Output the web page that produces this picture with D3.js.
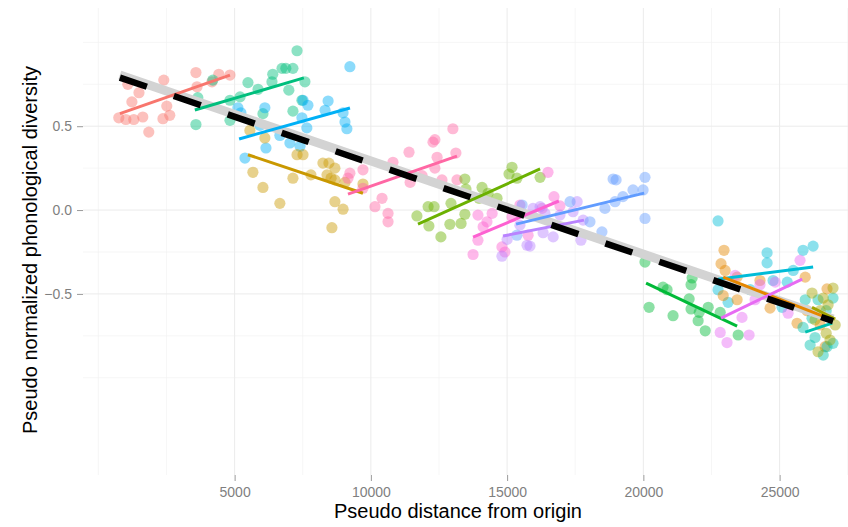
<!DOCTYPE html>
<html>
<head>
<meta charset="utf-8">
<script src="https://cdn.jsdelivr.net/npm/d3@7"></script>
<style>
  body { margin: 0; background: #fff; }
  svg { display: block; font-family: "Liberation Sans", Arial, sans-serif; }
</style>
</head>
<body>
<svg id="chart" width="848" height="527"></svg>
<script>
// points per group, [distance, diversity]
var g01 = [[750,0.55],[1010,0.54],[1300,0.54],[1630,0.555],[1230,0.645],[1490,0.70],[1080,0.75],[1850,0.465],[2400,0.775],[2510,0.62],[2370,0.545],[2620,0.565],[3580,0.82],[3620,0.735],[4420,0.81],[4830,0.805],[4170,0.765]];
var g02 = [[3580,0.51],[3650,0.67],[4200,0.775],[4830,0.655],[5200,0.675],[4830,0.535],[5490,0.76],[5860,0.72],[6040,0.575],[6370,0.765],[6400,0.81],[6740,0.845],[6880,0.845],[7140,0.845],[7290,0.95],[6990,0.715],[7580,0.765],[7470,0.655],[7140,0.59]];
var g03 = [[5380,0.31],[6150,0.37],[5120,0.61],[5230,0.58],[6110,0.61],[5930,0.505],[6660,0.445],[7030,0.40],[7400,0.38],[7510,0.655],[7690,0.625],[7470,0.55],[7650,0.49],[8430,0.65],[8320,0.595],[8980,0.58],[9050,0.525],[9120,0.485],[9230,0.855]];
var g04 = [[6110,0.43],[5670,0.225],[6040,0.135],[6660,0.04],[7140,0.19],[7290,0.33],[7510,0.33],[7800,0.21],[8240,0.28],[8460,0.28],[8680,0.25],[8390,0.21],[8540,0.19],[8680,0.18],[8680,0.05],[8980,0.005],[8570,-0.105],[9050,0.165],[9710,0.155],[5560,0.475]];
var g05 = [[9230,0.22],[9160,0.19],[9710,0.24],[10810,0.285],[11400,0.345],[12280,0.405],[12350,0.42],[13010,0.485],[12430,0.315],[12350,0.25],[11880,0.205],[12610,0.18],[13160,0.18],[13120,0.34],[11440,0.165],[10410,0.07],[10150,0.02],[10630,-0.02],[10630,-0.07],[9710,0.13]];
var g06 = [[11690,-0.035],[12100,0.02],[12320,0.02],[12130,-0.095],[12570,-0.16],[12940,0.04],[12900,-0.085],[13310,-0.08],[13450,-0.025],[13450,0.185],[13490,0.125],[14080,0.135],[14300,0.10],[14630,0.07],[13970,0.07],[15180,0.255],[15070,0.215],[15360,0.19],[16210,0.195]];
var g07 = [[13930,-0.03],[14120,-0.10],[14260,-0.07],[14450,-0.02],[13930,-0.18],[13750,-0.265],[14810,-0.22],[14920,-0.25],[15770,-0.15],[16280,0.01],[16500,0.225],[16720,0.08],[16940,0.025],[15180,-0.04],[15470,0.03]];
var g08 = [[15950,0.01],[16210,0.02],[16390,-0.02],[16940,-0.03],[17570,0.05],[17420,-0.01],[17790,-0.06],[17710,-0.18],[16690,-0.16],[16320,-0.135],[15730,-0.21],[15840,-0.215],[15000,-0.175],[14810,-0.275],[15470,-0.09]];
var g09 = [[15360,-0.15],[15550,0.03],[17310,0.05],[18040,-0.07],[18480,-0.13],[18590,0.01],[18890,0.185],[19000,0.18],[18960,0.05],[19250,0.08],[19620,0.12],[19990,0.12],[20060,0.195],[20060,-0.05]];
var g10 = [[20060,-0.31],[20720,-0.46],[20870,-0.475],[20210,-0.58],[21090,-0.63],[21790,-0.405],[21750,-0.445],[21680,-0.53],[21750,-0.59],[22050,-0.61],[22380,-0.58],[22010,-0.66],[22270,-0.72],[23480,-0.745],[22820,-0.61]];
var g11 = [[22740,-0.065],[22740,-0.475],[23110,-0.55],[24540,-0.255],[24540,-0.315],[25860,-0.24],[26230,-0.215],[25500,-0.36],[25280,-0.43],[24760,-0.42],[25090,-0.58],[23920,-0.475]];
var g12 = [[22960,-0.24],[22850,-0.32],[23000,-0.36],[23440,-0.40],[22930,-0.51],[23440,-0.535],[24650,-0.585],[25640,-0.675],[25940,-0.40],[26740,-0.47],[26010,-0.6],[26670,-0.815],[24280,-0.42],[26490,-0.685]];
var g13 = [[22820,-0.73],[23070,-0.79],[23370,-0.39],[23620,-0.64],[23880,-0.745],[24280,-0.445],[24840,-0.43],[25310,-0.615],[25750,-0.30],[24100,-0.535]];
var g14 = [[25940,-0.535],[25860,-0.70],[26120,-0.805],[26600,-0.865],[26740,-0.815],[26960,-0.525],[26960,-0.795],[26300,-0.76],[26710,-0.6],[26190,-0.645],[26410,-0.535]];
var g15 = [[26190,-0.495],[26600,-0.525],[26960,-0.465],[27040,-0.685],[26710,-0.735],[26410,-0.845],[26850,-0.775],[26300,-0.655],[26490,-0.6],[26780,-0.565]];

var groups = [g01, g02, g03, g04, g05, g06, g07, g08, g09, g10, g11, g12, g13, g14, g15];
var groupColors = ["#F8766D","#00BF7D","#00B0F6","#C99800","#FF67A4","#6BB100","#FD61D1","#B983FF","#619CFF","#00BA38","#00BCD8","#E58700","#E76BF3","#00C0AF","#A3A500"];

// per-group fitted lines: start/end distance and diversity
var fitX = [[790,4830],[3540,7540],[5165,9233],[5490,9710],[9160,13160],[11730,16210],[13750,16900],[14850,17820],[15330,20030],[20100,23440],[22740,26230],[22930,26780],[22850,25830],[25940,26930],[26190,27040]];
var fitY = [[0.575,0.805],[0.597,0.788],[0.424,0.609],[0.33,0.10],[0.095,0.322],[-0.084,0.245],[-0.161,0.054],[-0.155,-0.06],[-0.084,0.101],[-0.436,-0.692],[-0.412,-0.34],[-0.40,-0.644],[-0.644,-0.412],[-0.728,-0.674],[-0.58,-0.65]];

// overall trends
var greyTrend = [[789,0.805],[26963,-0.65]];
var blackTrend = [[789,0.79],[26963,-0.662]];

var xMajor = [5000, 10000, 15000, 20000, 25000];
var xMinor = [0, 2500, 7500, 12500, 17500, 22500, 27500];
var yMajor = [-0.5, 0, 0.5];
var yMinor = [-1, -0.75, -0.25, 0.25, 0.75, 1];

var svg = d3.select("#chart");
var panelL = 83, panelR = 871, panelT = 8, panelB = 475;

var x = d3.scaleLinear().domain([-564, 28354]).range([panelL, panelR]);
var y = d3.scaleLinear().domain([-1.58, 1.205]).range([panelB, panelT]);

svg.append("defs").append("clipPath").attr("id", "panel")
    .append("rect").attr("x", panelL).attr("y", panelT)
    .attr("width", panelR - panelL).attr("height", panelB - panelT);

var grid = svg.append("g").attr("clip-path", "url(#panel)");

function vLines(vals, color, w)
{
    grid.append("g").selectAll("line").data(vals).enter().append("line")
        .attr("x1", function (d) { return x(d); }).attr("x2", function (d) { return x(d); })
        .attr("y1", panelT).attr("y2", panelB)
        .attr("stroke", color).attr("stroke-width", w);
}
function hLines(vals, color, w)
{
    grid.append("g").selectAll("line").data(vals).enter().append("line")
        .attr("y1", function (d) { return y(d); }).attr("y2", function (d) { return y(d); })
        .attr("x1", panelL).attr("x2", panelR)
        .attr("stroke", color).attr("stroke-width", w);
}
vLines(xMinor, "#F2F2F2", 0.7);
hLines(yMinor, "#F2F2F2", 0.7);
vLines(xMajor, "#EBEBEB", 1);
hLines(yMajor, "#EBEBEB", 1);

// axes, only ticks and labels
var xAxis = svg.append("g").attr("transform", "translate(0," + panelB + ")")
    .call(d3.axisBottom(x).tickValues(xMajor).tickSize(6).tickPadding(6).tickFormat(d3.format("d")));
var yAxis = svg.append("g").attr("transform", "translate(" + panelL + ",0)")
    .call(d3.axisLeft(y).tickValues(yMajor).tickSize(6).tickPadding(5).tickFormat(d3.format(".1f")));

[xAxis, yAxis].forEach(function (a)
{
    a.select(".domain").remove();
    a.selectAll(".tick line").attr("stroke", "#9A9A9A");
    a.selectAll(".tick text").attr("fill", "#7F7F7F").style("font-size", "14px")
        .style("font-family", "Liberation Sans, Arial, sans-serif");
});

var plot = svg.append("g").attr("clip-path", "url(#panel)");

var line = d3.line()
    .x(function (d) { return x(d[0]); })
    .y(function (d) { return y(d[1]); });

groups.forEach(function (pts, i)
{
    plot.append("g")
        .selectAll("circle")
        .data(pts)
        .enter().append("circle")
        .attr("cx", function (d) { return x(d[0]); })
        .attr("cy", function (d) { return y(d[1]); })
        .attr("r", 5.6)
        .attr("fill", groupColors[i])
        .attr("fill-opacity", 0.45);
});

plot.append("path")
    .attr("d", line(greyTrend))
    .attr("stroke", "#D3D3D3").attr("stroke-width", 9).attr("fill", "none");

groups.forEach(function (pts, i)
{
    var seg = [[fitX[i][0], fitY[i][0]], [fitX[i][1], fitY[i][1]]];
    plot.append("path")
        .attr("d", line(seg))
        .attr("stroke", groupColors[i]).attr("stroke-width", 3).attr("fill", "none");
});

plot.append("path")
    .attr("d", line(blackTrend))
    .attr("stroke", "#000").attr("stroke-width", 6.5)
    .attr("stroke-dasharray", "28.5,28.5").attr("fill", "none");

svg.append("text")
    .attr("x", 458).attr("y", 518)
    .attr("text-anchor", "middle")
    .style("font-size", "20px")
    .text("Pseudo distance from origin");

svg.append("text")
    .attr("transform", "translate(37,250) rotate(-90)")
    .attr("text-anchor", "middle")
    .style("font-size", "20px")
    .text("Pseudo normalized phonological diversity");
</script>
</body>
</html>
